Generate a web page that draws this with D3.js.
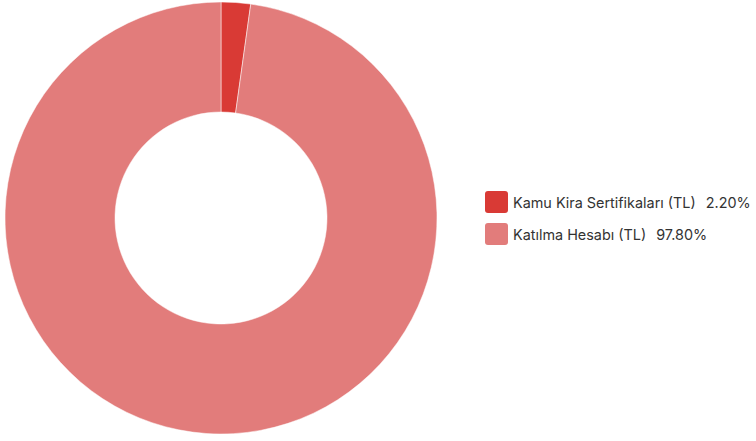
<!DOCTYPE html>
<html><head><meta charset="utf-8">
<script src="https://cdn.jsdelivr.net/npm/d3@7"></script>
<style>body{margin:0;background:#fff;}svg{display:block;}</style>
</head><body>
<svg id="c" width="756" height="441"></svg>
<script>
const labels = ["Kamu Kira Sertifikaları (TL)", "Katılma Hesabı (TL)"];
const values = [2.20, 97.80];
const valueTexts = ["2.20%", "97.80%"];
const colors = ["#d93a35", "#e27c7b"];

const svg = d3.select("#c");
const cx = 221, cy = 218, rO = 216, rI = 106;
const pie = d3.pie().sort(null).value(d => d)(values);
const arc = d3.arc().innerRadius(rI).outerRadius(rO);
const g = svg.append("g").attr("transform", `translate(${cx},${cy})`);
g.selectAll("path").data(pie).join("path")
  .attr("d", arc).attr("fill", (d,i) => colors[i])
  .attr("stroke", "#fff").attr("stroke-width", 0.5);

const lg = svg.append("g").attr("transform", "translate(485,191)");
const items = lg.selectAll("g").data(labels).join("g")
  .attr("transform", (d,i) => `translate(0,${i*32})`);
items.append("rect").attr("width", 23).attr("height", 22).attr("rx", 3)
  .attr("fill", (d,i) => colors[i]);
const t = items.append("text").attr("x", 28).attr("y", 17)
  .attr("font-family", "Inter, 'Noto Sans', sans-serif").attr("font-size", 14.4)
  .attr("fill", "#333");
t.append("tspan").text(d => d);
t.append("tspan").attr("dx", 10).text((d,i) => valueTexts[i]);
</script>
</body></html>
